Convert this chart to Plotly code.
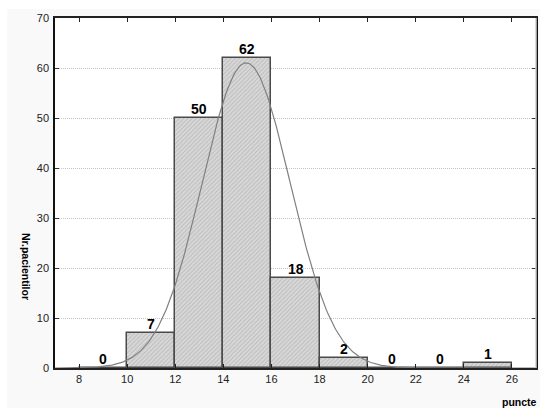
import numpy as np
import plotly.graph_objects as go

# Histogram of scores (bin width 2) with a fitted normal curve
bin_centers = [9, 11, 13, 15, 17, 19, 21, 23, 25]
counts = [0, 7, 50, 62, 18, 2, 0, 0, 1]
x_ticks = [8, 10, 12, 14, 16, 18, 20, 22, 24, 26]
y_ticks = [0, 10, 20, 30, 40, 50, 60, 70]

bin_width = 2
fit_mean = 14.95
fit_sd = 1.83
n_total = sum(counts)

W, H = 540, 408
ML, MR, MT, MB = 55, 2, 18, 40
PW, PH = W - ML - MR, H - MT - MB

xs = np.linspace(7, 27, 400)
ys = n_total * bin_width / (fit_sd * np.sqrt(2 * np.pi)) * np.exp(-0.5 * ((xs - fit_mean) / fit_sd) ** 2)

fig = go.Figure()
fig.add_trace(go.Bar(
    x=bin_centers, y=counts, width=bin_width,
    marker=dict(
        color="#d8d8d8",
        line=dict(color="#4a4a4a", width=1.5),
        pattern=dict(shape="/", fgcolor="#9a9a9a", bgcolor="#d8d8d8", size=3, solidity=0.3),
    ),
    hoverinfo="skip",
))
fig.add_trace(go.Scatter(
    x=xs, y=ys, mode="lines",
    line=dict(color="#808080", width=1.2),
    hoverinfo="skip",
))

annotations = []
for c, v in zip(bin_centers, counts):
    annotations.append(dict(
        x=c, y=v, xref="x", yref="y", text=f"<b>{v}</b>", showarrow=False,
        yanchor="bottom", yshift=-1, font=dict(family="Arial, Liberation Sans", size=14, color="black"),
    ))
annotations.append(dict(
    x=(26 - ML) / PW, y=1 - (266 - MT) / PH, xref="paper", yref="paper",
    text="<b>Nr.pacientilor</b>", textangle=90, showarrow=False,
    xanchor="center", yanchor="middle",
    font=dict(family="Arial, Liberation Sans", size=10.5, color="black"),
))
annotations.append(dict(
    x=(541 - ML) / PW, y=-(402 - MT - PH) / PH, xref="paper", yref="paper",
    text="<b>puncte</b>", showarrow=False, xanchor="right", yanchor="middle",
    font=dict(family="Arial, Liberation Sans", size=10.5, color="black"),
))

shapes = [
    # light panel behind the chart
    dict(type="rect", xref="paper", yref="paper", layer="below",
         x0=(7 - ML) / PW, x1=(W + 5 - ML) / PW,
         y0=-(H + 5 - MT - PH) / PH, y1=1 + (MT - 9) / PH,
         fillcolor="#f9f9f9", line=dict(width=0)),
    # plot area
    dict(type="rect", xref="paper", yref="paper", layer="below",
         x0=0, x1=1, y0=0, y1=1, fillcolor="white", line=dict(width=0)),
    # right frame
    dict(type="line", xref="paper", yref="paper", x0=1, x1=1, y0=0, y1=1,
         line=dict(color="#cfcfcf", width=1.5)),
]

fig.update_layout(
    width=W, height=H,
    margin=dict(l=ML, r=MR, t=MT, b=MB),
    paper_bgcolor="white", plot_bgcolor="rgba(0,0,0,0)",
    showlegend=False, bargap=0,
    annotations=annotations, shapes=shapes,
    font=dict(family="Arial, Liberation Sans", size=11, color="#222"),
)
fig.update_xaxes(
    range=[7, 27], tickvals=x_ticks, ticks="inside", ticklen=4, tickcolor="#222",
    showline=True, linecolor="#222", linewidth=2, mirror="allticks",
    showgrid=False, zeroline=False, tickfont=dict(size=11),
)
fig.update_yaxes(
    range=[0, 70], tickvals=y_ticks, ticks="inside", ticklen=4, tickcolor="#333",
    showline=True, linecolor="#111", linewidth=1.5, mirror="ticks",
    showgrid=True, gridcolor="#c4c4c4", griddash="1px,1px", gridwidth=1,
    zeroline=False, tickfont=dict(size=11), ticklabelstandoff=2,
)

fig.write_html("out.html")
